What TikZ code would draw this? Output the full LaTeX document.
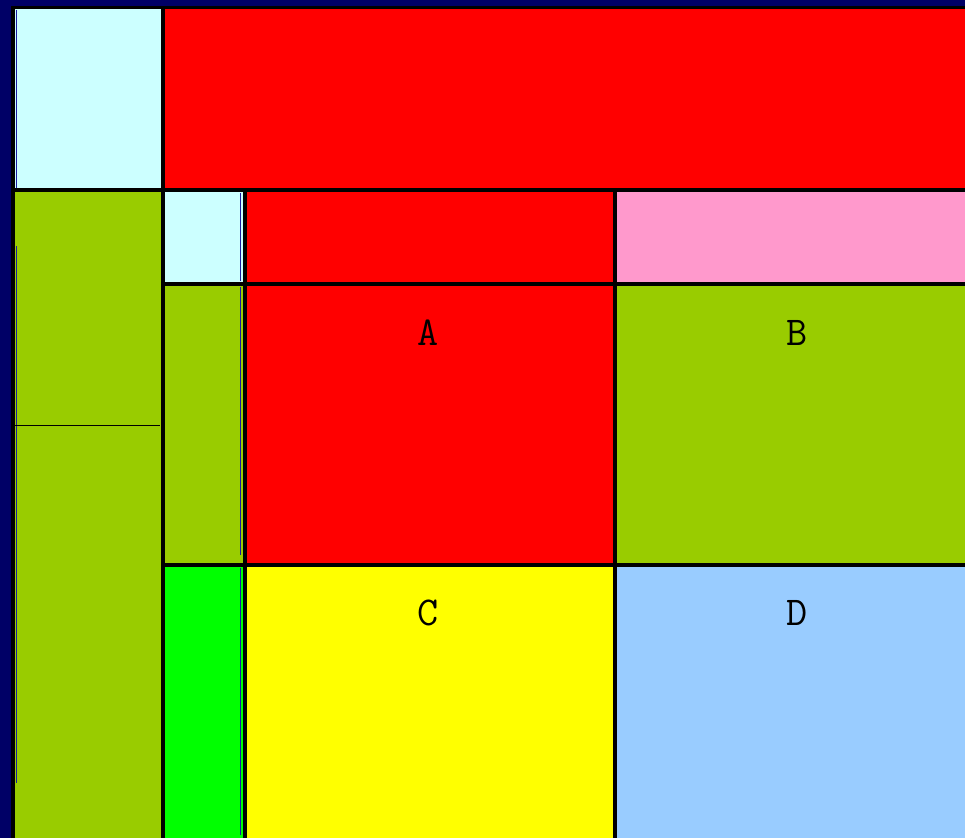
\documentclass[tikz,border=0pt]{standalone}
\definecolor{navybg}{HTML}{000066}
\definecolor{palecyan}{HTML}{CCFFFF}
\definecolor{olive}{HTML}{99CC00}
\definecolor{pinkcell}{HTML}{FF99CC}
\definecolor{skycell}{HTML}{99CCFF}
\definecolor{limecell}{HTML}{00FF00}
\definecolor{yellowcell}{HTML}{FFFF00}
\definecolor{redcell}{HTML}{FF0000}
\definecolor{seamblue}{HTML}{1A1AA0}

\begin{document}
\begin{tikzpicture}[x=1pt,y=-1pt,
  rule/.style={line width=4pt,black},
  seam/.style={line width=1pt,seamblue},
  lbl/.style={font=\ttfamily\fontsize{41}{41}\selectfont,anchor=base}]
\useasboundingbox (0,0) rectangle (965,838);
\fill[navybg] (0,0) rectangle (965,838);
% cells
\fill[palecyan] (13,7.5) rectangle (163,190);
\fill[redcell] (163,7.5) rectangle (965,190);
\fill[olive] (13,190) rectangle (163,838);
\fill[palecyan] (163,190) rectangle (244.5,284);
\fill[olive] (163,284) rectangle (244.5,565);
\fill[limecell] (163,565) rectangle (244.5,838);
\fill[redcell] (244.5,190) rectangle (615,565);
\fill[pinkcell] (615,190) rectangle (965,284);
\fill[olive] (615,284) rectangle (965,565);
\fill[yellowcell] (244.5,565) rectangle (615,838);
\fill[skycell] (615,565) rectangle (965,838);
% thin seams
\draw[seam] (16,10) -- (16,188);
\draw[seam] (16,246) -- (16,783);
\draw[seam] (240.5,193) -- (240.5,281);
\draw[seam] (240.5,287) -- (240.5,555);
\draw[seam] (240.5,568) -- (240.5,835);
\draw[line width=1pt,black] (15,425) -- (160,425);
% grid lines
\draw[rule,line width=3.5pt] (13,838) -- (13,7.5) -- (965,7.5);
\draw[rule] (163,7.5) -- (163,838);
\draw[rule] (244.5,190) -- (244.5,838);
\draw[rule] (615,190) -- (615,838);
\draw[rule] (13,190) -- (965,190);
\draw[rule] (163,284) -- (965,284);
\draw[rule] (161,565) -- (965,565);
% labels
\node[lbl] (labA) at (428,345) {A};
\node[lbl] (labB) at (797,345) {B};
\node[lbl] (labC) at (428,625) {C};
\node[lbl] (labD) at (797,625) {D};
\end{tikzpicture}
\end{document}
